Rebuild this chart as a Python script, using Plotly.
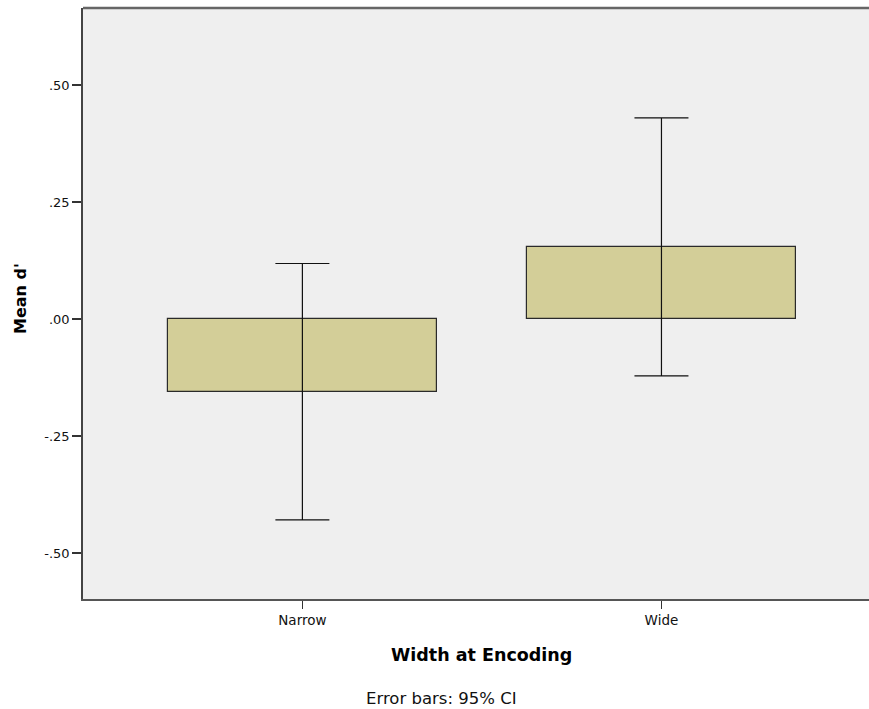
import plotly.graph_objects as go

categories = ["Narrow", "Wide"]
means = [-0.155, 0.155]
ci_upper = [0.119, 0.430]
ci_lower = [-0.429, -0.121]
ytick_vals = [-0.5, -0.25, 0.0, 0.25, 0.5]
ytick_text = ["-.50", "-.25", ".00", ".25", ".50"]

err_plus = [u - m for u, m in zip(ci_upper, means)]
err_minus = [m - l for m, l in zip(means, ci_lower)]

FONT = "DejaVu Sans, Liberation Sans, Arial, sans-serif"

fig = go.Figure()
fig.add_trace(go.Bar(
    x=[0, 1], y=means, width=0.75,
    marker=dict(color="#D3CE98", line=dict(color="#2a2a2a", width=1.2)),
    error_y=dict(type="data", symmetric=False, array=err_plus, arrayminus=err_minus,
                 color="#111111", thickness=1.2, width=27),
    showlegend=False,
))

fig.update_layout(
    width=869, height=709,
    margin=dict(l=83, r=0, t=8, b=110),
    paper_bgcolor="white", plot_bgcolor="#EFEFEF",
    font=dict(family=FONT, size=14, color="#111"),
    bargap=0,
    xaxis=dict(
        range=[-0.611, 1.578], tickvals=[0, 1], ticktext=categories,
        showgrid=False, zeroline=False,
        showline=True, linecolor="#555", linewidth=2, mirror=False,
        ticks="outside", ticklen=8, tickcolor="#333", tickwidth=1.2,
        tickfont=dict(size=13.5, family=FONT, color="#111"),
    ),
    yaxis=dict(
        range=[-0.598, 0.665], tickvals=ytick_vals, ticktext=ytick_text,
        showgrid=False, zeroline=False,
        showline=True, linecolor="#444", linewidth=1.5, mirror=False,
        ticks="outside", ticklen=9, tickcolor="#333", tickwidth=1.5,
        tickfont=dict(size=13, family=FONT, color="#111"),
    ),
    shapes=[
        dict(type="line", xref="paper", yref="paper", x0=0, x1=1.01, y0=1, y1=1,
             line=dict(color="#666", width=2.5)),
    ],
    annotations=[
        dict(text="<b>Width at Encoding</b>", xref="paper", yref="paper",
             x=(481 - 83) / 786, y=-(655 - 599) / 591, showarrow=False,
             xanchor="center", yanchor="middle",
             font=dict(size=17.5, family=FONT, color="#000")),
        dict(text="Error bars: 95% CI", xref="paper", yref="paper",
             x=(441 - 83) / 786, y=-(698 - 599) / 591, showarrow=False,
             xanchor="center", yanchor="middle",
             font=dict(size=16.5, family=FONT, color="#111")),
        dict(text="<b>Mean d'</b>", xref="paper", yref="paper",
             x=(20 - 83) / 786, y=(599 - 299) / 591, showarrow=False,
             xanchor="center", yanchor="middle", textangle=-90,
             font=dict(size=16, family=FONT, color="#000")),
    ],
)

fig.write_html("out.html")
